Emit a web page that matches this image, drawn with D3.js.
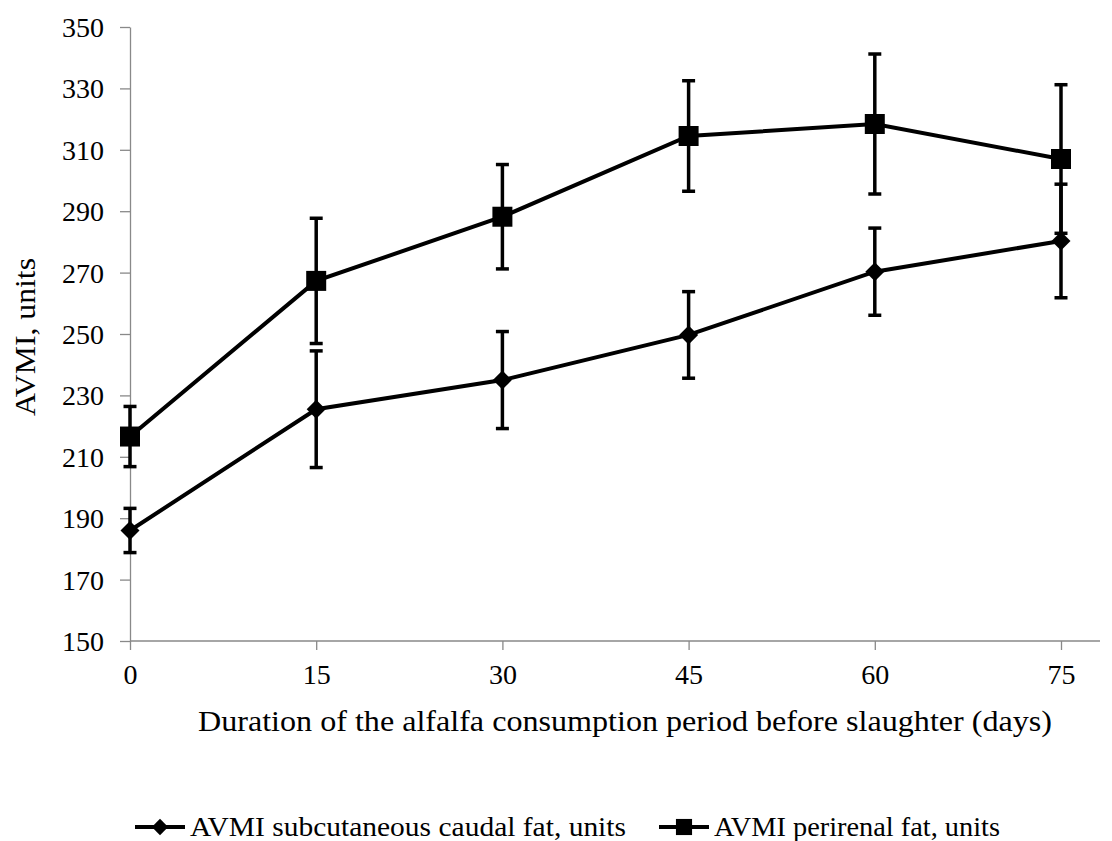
<!DOCTYPE html>
<html lang="en">
<head>
<meta charset="utf-8" />
<title>AVMI</title>
<script src="https://cdn.jsdelivr.net/npm/d3@7"></script>
<style>
  body { margin: 0; background: #fff; }
  text { font-family: "Liberation Serif", "Times New Roman", serif; fill: #000; }
  .axis path, .axis line { stroke: #898989; stroke-width: 1.3px; }
</style>
</head>
<body>
<div id="chart"></div>
<script>
  var width = 1112, height = 841;

  // data
  var days = [0, 15, 30, 45, 60, 75];
  var yTicks = [150, 170, 190, 210, 230, 250, 270, 290, 310, 330, 350];
  var caudal = [186, 225.5, 235, 249.7, 270.3, 280.3];
  var caudalErr = [7.2, 19, 15.8, 14.1, 14.2, 18.5];
  var perirenal = [216.6, 267.3, 288.2, 314.5, 318.4, 307];
  var perirenalErr = [9.8, 20.4, 17, 18, 22.8, 24.2];

  var series = [
    { name: "AVMI subcutaneous caudal fat, units", values: caudal, err: caudalErr, marker: "diamond" },
    { name: "AVMI perirenal fat, units", values: perirenal, err: perirenalErr, marker: "square" }
  ];

  var x = d3.scaleLinear().domain([0, 75]).range([130, 1061]);
  var y = d3.scaleLinear().domain([150, 350]).range([641, 27]);

  var svg = d3.select("#chart").append("svg")
      .attr("width", width)
      .attr("height", height);

  // axes
  var yAxis = svg.append("g")
      .attr("class", "axis")
      .attr("transform", "translate(" + x(0) + ",0)")
      .call(d3.axisLeft(y).tickValues(yTicks).tickSize(10).tickPadding(16).tickSizeOuter(0));
  yAxis.selectAll("text").style("font-size", "28px").attr("dy", "0.34em");

  var xAxis = svg.append("g")
      .attr("class", "axis")
      .attr("transform", "translate(0," + y(150) + ")")
      .call(d3.axisBottom(x).tickValues(days).tickSize(9).tickPadding(14).tickSizeOuter(0));
  xAxis.select(".domain").attr("d", "M" + x(0) + ",0H1100");
  xAxis.selectAll("text").style("font-size", "28px");

  svg.append("text")
      .attr("transform", "translate(35,337) rotate(-90)")
      .attr("text-anchor", "middle")
      .attr("textLength", 158)
      .attr("lengthAdjust", "spacingAndGlyphs")
      .style("font-size", "30px")
      .text("AVMI, units");

  svg.append("text")
      .attr("x", 198)
      .attr("y", 731)
      .attr("textLength", 854)
      .attr("lengthAdjust", "spacingAndGlyphs")
      .style("font-size", "30px")
      .text("Duration of the alfalfa consumption period before slaughter (days)");

  var line = d3.line()
      .x(function(d, i) { return x(days[i]); })
      .y(function(d) { return y(d); });

  var diamond = d3.symbol().type(d3.symbolDiamond2).size(230);
  var square = d3.symbol().type(d3.symbolSquare).size(400);

  series.forEach(function(s) {
    svg.append("path")
        .datum(s.values)
        .attr("fill", "none")
        .attr("stroke", "#000")
        .attr("stroke-width", 4)
        .attr("d", line);
  });

  series.forEach(function(s) {
    var g = svg.append("g");
    s.values.forEach(function(v, i) {
      var cx = x(days[i]), hi = y(v + s.err[i]), lo = y(v - s.err[i]);
      g.append("line").attr("x1", cx).attr("x2", cx).attr("y1", hi).attr("y2", lo)
          .attr("stroke", "#000").attr("stroke-width", 3.5);
      [hi, lo].forEach(function(yy) {
        g.append("line").attr("x1", cx - 6.5).attr("x2", cx + 6.5).attr("y1", yy).attr("y2", yy)
            .attr("stroke", "#000").attr("stroke-width", 3.5);
      });
    });
  });

  series.forEach(function(s) {
    svg.append("g").selectAll("path")
        .data(s.values)
        .join("path")
        .attr("transform", function(d, i) { return "translate(" + x(days[i]) + "," + y(d) + ")"; })
        .attr("d", s.marker === "diamond" ? diamond : square)
        .attr("fill", "#000");
  });

  // legend
  var legendX = [135, 659];
  var legendLen = [436, 286];
  var legend = svg.append("g").selectAll("g")
      .data(series)
      .join("g")
      .attr("transform", function(d, i) { return "translate(" + legendX[i] + ",827)"; });
  legend.append("line").attr("x1", 0).attr("x2", 50).attr("y1", 0).attr("y2", 0)
      .attr("stroke", "#000").attr("stroke-width", 4);
  legend.append("path")
      .attr("transform", "translate(25,0)")
      .attr("d", function(d) { return d.marker === "diamond" ? d3.symbol().type(d3.symbolDiamond2).size(170)() : d3.symbol().type(d3.symbolSquare).size(260)(); })
      .attr("fill", "#000");
  legend.append("text")
      .attr("x", 55)
      .attr("y", 0)
      .attr("dy", "0.34em")
      .attr("textLength", function(d, i) { return legendLen[i]; })
      .attr("lengthAdjust", "spacingAndGlyphs")
      .style("font-size", "27px")
      .text(function(d) { return d.name; });
</script>
</body>
</html>
